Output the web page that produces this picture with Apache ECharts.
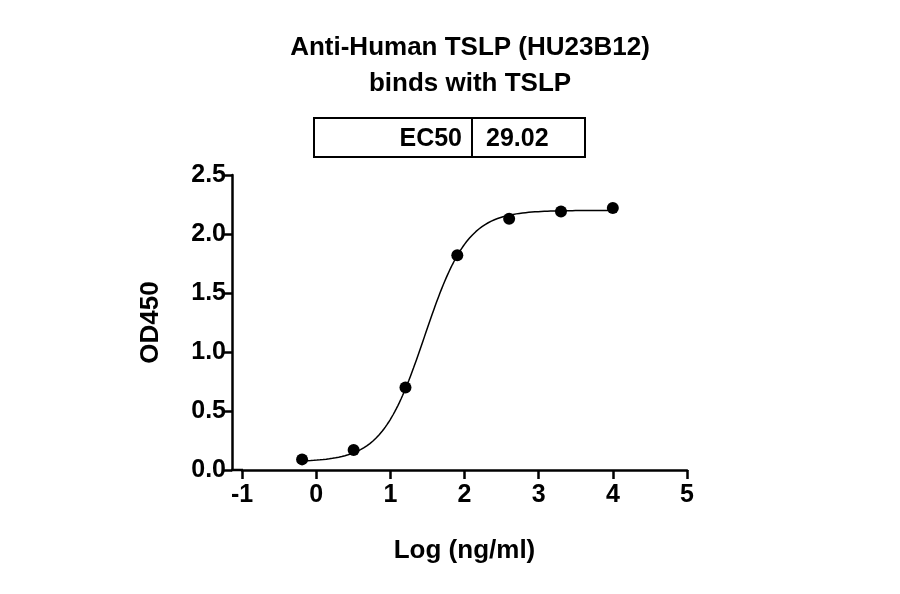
<!DOCTYPE html><html><head><meta charset="utf-8"><script src="https://cdn.jsdelivr.net/npm/echarts@6/dist/echarts.min.js"></script></head><body style="margin:0"><div id="c" style="width:900px;height:594px"></div><script>
const logConc=[-0.19,0.505,1.204,1.903,2.602,3.301,4.0];
const od=[0.09,0.17,0.70,1.82,2.13,2.19,2.22];
const fitBottom=0.07, fitTop=2.20, fitLogEC50=Math.log10(29.02), fitHill=1.5;
const ec50Label="29.02";
const curve=[];
for(let i=0;i<=200;i++){const x=-0.2+i*4.2/200;curve.push([x,fitBottom+(fitTop-fitBottom)/(1+Math.pow(10,(fitLogEC50-x)*fitHill))]);}
const F='Liberation Sans, Arial, sans-serif';
const ch=echarts.init(document.getElementById('c'));
const ax={lineStyle:{color:'#000',width:2.5}};
ch.setOption({
 animation:false,
 title:{text:'Anti-Human TSLP (HU23B12)\nbinds with TSLP',left:465,top:25,textAlign:'center',textStyle:{fontFamily:F,fontSize:26,fontWeight:'bold',color:'#000',lineHeight:36}},
 grid:{left:242,right:213,top:175,bottom:124},
 xAxis:{type:'value',min:-1,max:5,interval:1,axisLine:{onZero:false,...ax},axisTick:{length:9,lineStyle:{color:'#000',width:2.5}},splitLine:{show:false},
  axisLabel:{fontFamily:F,fontSize:25,fontWeight:'bold',color:'#000',margin:13},
  name:'Log (ng/ml)',nameLocation:'middle',nameGap:68,nameTextStyle:{fontFamily:F,fontSize:26,fontWeight:'bold',color:'#000'}},
 yAxis:{type:'value',min:0,max:2.5,interval:0.5,offset:10,axisLine:{show:true,onZero:false,...ax},axisTick:{show:true,length:9,lineStyle:{color:'#000',width:2.5}},splitLine:{show:false},
  axisLabel:{fontFamily:F,fontSize:25,fontWeight:'bold',color:'#000',margin:6,formatter:v=>v.toFixed(1)},
  name:'OD450',nameLocation:'middle',nameGap:68,nameTextStyle:{fontFamily:F,fontSize:26,fontWeight:'bold',color:'#000'}},
 series:[
  {type:'line',data:curve,showSymbol:false,lineStyle:{color:'#000',width:1.5}},
  {type:'scatter',data:logConc.map((x,i)=>[x,od[i]]),symbolSize:12,itemStyle:{color:'#000',opacity:1}}
 ],
 graphic:[
  {type:'line',shape:{x1:231,y1:470,x2:243,y2:470},style:{stroke:'#000',lineWidth:2.5}},
  {type:'rect',shape:{x:314,y:118,width:271,height:39},style:{fill:'none',stroke:'#000',lineWidth:2}},
  {type:'line',shape:{x1:472,y1:118,x2:472,y2:157},style:{stroke:'#000',lineWidth:2}},
  {type:'text',x:462,y:139,style:{text:'EC50',fontFamily:F,fontSize:25,fontWeight:'bold',fill:'#000',align:'right',verticalAlign:'middle'}},
  {type:'text',x:486,y:139,style:{text:ec50Label,fontFamily:F,fontSize:25,fontWeight:'bold',fill:'#000',align:'left',verticalAlign:'middle'}}
 ]
});
</script></body></html>
